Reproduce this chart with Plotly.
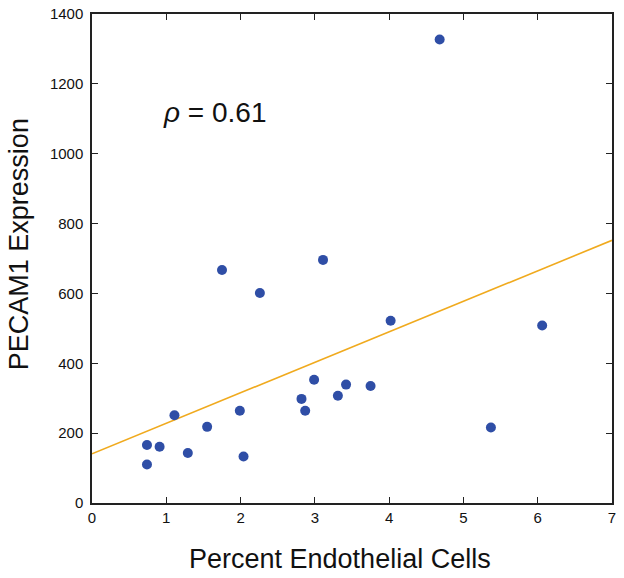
import plotly.graph_objects as go

# Data
pct_endothelial = [0.74, 0.74, 0.91, 1.11, 1.29, 1.55, 1.75, 1.99, 2.04, 2.26,
                   2.82, 2.87, 2.99, 3.11, 3.31, 3.42, 3.75, 4.02, 4.68, 5.37, 6.06]
pecam1_expr = [166, 110, 161, 251, 143, 218, 667, 264, 133, 601,
               298, 264, 353, 696, 307, 339, 335, 522, 1327, 216, 508]

fit_x = [0, 7]
fit_y = [141, 752]

x_ticks = [0, 1, 2, 3, 4, 5, 6, 7]
y_ticks = [0, 200, 400, 600, 800, 1000, 1200, 1400]

rho_text = "<i>ρ</i> = 0.61"
x_title = "Percent Endothelial Cells"
y_title = "PECAM1 Expression"

FONT = "Liberation Sans, Arial, Helvetica, sans-serif"

fig = go.Figure()
fig.add_trace(go.Scatter(x=fit_x, y=fit_y, mode="lines",
                         line=dict(color="#f0aa1e", width=1.6),
                         hoverinfo="skip", showlegend=False))
fig.add_trace(go.Scatter(x=pct_endothelial, y=pecam1_expr, mode="markers",
                         marker=dict(color="#2f4ea6", size=10, line=dict(width=0)),
                         showlegend=False))

axis_common = dict(showgrid=False, zeroline=False, showline=True, linecolor="#222",
                   linewidth=1.5, mirror="ticks", ticks="inside", ticklen=6,
                   tickwidth=1.3, tickcolor="#222", automargin=False,
                   tickfont=dict(family=FONT, size=15, color="#111"))

fig.update_xaxes(range=[0, 7], tickvals=x_ticks, **axis_common)
fig.update_yaxes(range=[0, 1400], tickvals=y_ticks, ticklabelstandoff=4, **axis_common)

fig.add_annotation(x=0.933, y=1117, xref="x", yref="y", text=rho_text,
                   showarrow=False, xanchor="left", yanchor="middle",
                   font=dict(family=FONT, size=28, color="#111"))
fig.add_annotation(x=(339.5 - 92) / 520, y=-(559 - 503.3) / 489, xref="paper", yref="paper",
                   text=x_title, showarrow=False, xanchor="center", yanchor="middle",
                   font=dict(family=FONT, size=27, color="#111"))
fig.add_annotation(x=(19 - 92) / 520, y=(503.3 - 244.5) / 489, xref="paper", yref="paper",
                   text=y_title, showarrow=False, textangle=-90,
                   xanchor="center", yanchor="middle",
                   font=dict(family=FONT, size=27, color="#111"))

fig.update_layout(width=624, height=578, plot_bgcolor="white", paper_bgcolor="white",
                  margin=dict(l=92, r=12, t=14, b=75))

fig.write_html("out.html", config={"displayModeBar": False},
               post_script="document.body.style.margin='0';")
